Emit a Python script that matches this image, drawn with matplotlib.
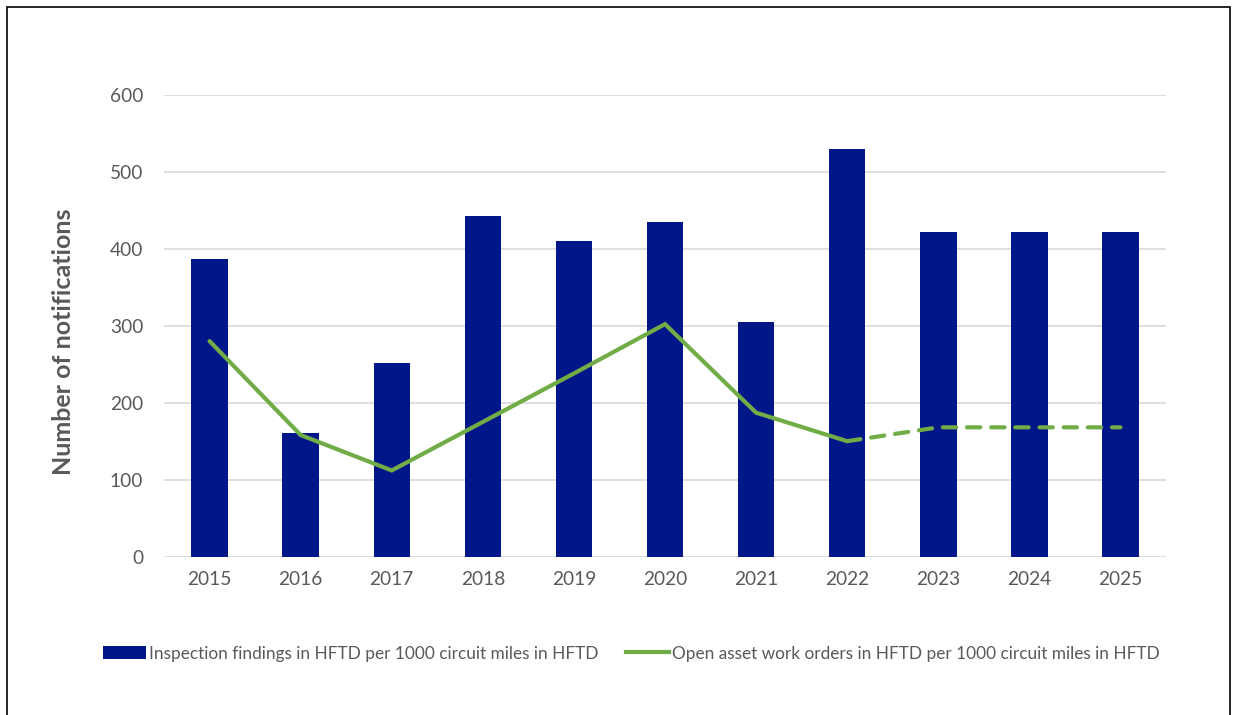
import numpy as np
import matplotlib
import matplotlib.pyplot as plt
from matplotlib.patches import Rectangle, Patch
from matplotlib.lines import Line2D

#---------------------DATA------------------------
years = ['2015', '2016', '2017', '2018', '2019', '2020', '2021', '2022', '2023', '2024', '2025']
findings = [386, 160, 252, 443, 410, 435, 305, 529, 422, 422, 422]
work_orders = [280, 158, 112, 175, 238, 302, 187, 150, 168, 168, 168]
n_actual = 8  # solid line up to 2022, dashed after
yticks = [0, 100, 200, 300, 400, 500, 600]

bar_label = 'Inspection findings in HFTD per 1000 circuit miles in HFTD'
line_label = 'Open asset work orders in HFTD per 1000 circuit miles in HFTD'

#---------------------FONT------------------------
matplotlib.rc('font', family=['Lato', 'DejaVu Sans'])
gray = '#595959'
navy = '#001689'
green = '#70AD47'

#------------Figure Layout--------------
fig = plt.figure(figsize=(12.33, 7.15), dpi=100)
fig.subplots_adjust(left=0.133, right=0.9457, top=0.8676, bottom=0.2214)
ax = fig.add_subplot(111)

x = np.arange(len(years))
ax.bar(x, findings, width=0.4, color=navy, zorder=2)
ax.plot(x[:n_actual], work_orders[:n_actual], color=green, linewidth=3,
        solid_capstyle='round', solid_joinstyle='miter', zorder=3)
ax.plot(x[n_actual - 1:], work_orders[n_actual - 1:], color=green, linewidth=3,
        linestyle=(0, (3.2, 2.6)), dash_capstyle='round', zorder=3)

ax.set_xlim(-0.5, len(years) - 0.5)
ax.set_ylim(0, 600)
ax.set_yticks(yticks)
ax.set_xticks(x)
ax.set_xticklabels(years)
ax.tick_params(axis='both', length=0, colors=gray, labelsize=13.8)
ax.tick_params(axis='y', pad=15)
ax.tick_params(axis='x', pad=10)
ax.grid(axis='y', color='#D9D9D9', linewidth=1.2, zorder=0)
ax.set_axisbelow(True)
for s in ax.spines.values():
    s.set_visible(False)

ax.set_ylabel('Number of notifications', fontsize=18, fontweight='bold',
              color=gray)
ax.yaxis.set_label_coords(-0.089, 0.465)

# legend
handles = [Patch(facecolor=navy, edgecolor='none'),
           Line2D([0], [0], color=green, linewidth=3)]
fig.legend(handles, [bar_label, line_label], loc='center',
           bbox_to_anchor=(0.512, 0.086), ncol=2, frameon=False,
           fontsize=12.4, labelcolor=gray, handlelength=2.5, handletextpad=0.15,
           columnspacing=1.6)

# outer border
fig.patches.append(Rectangle((7 / 1233, -0.05), 1223 / 1233, 1.05 - 7 / 715,
                             transform=fig.transFigure, fill=False,
                             edgecolor='black', linewidth=1.2))

fig.savefig('out.png', dpi=100)
